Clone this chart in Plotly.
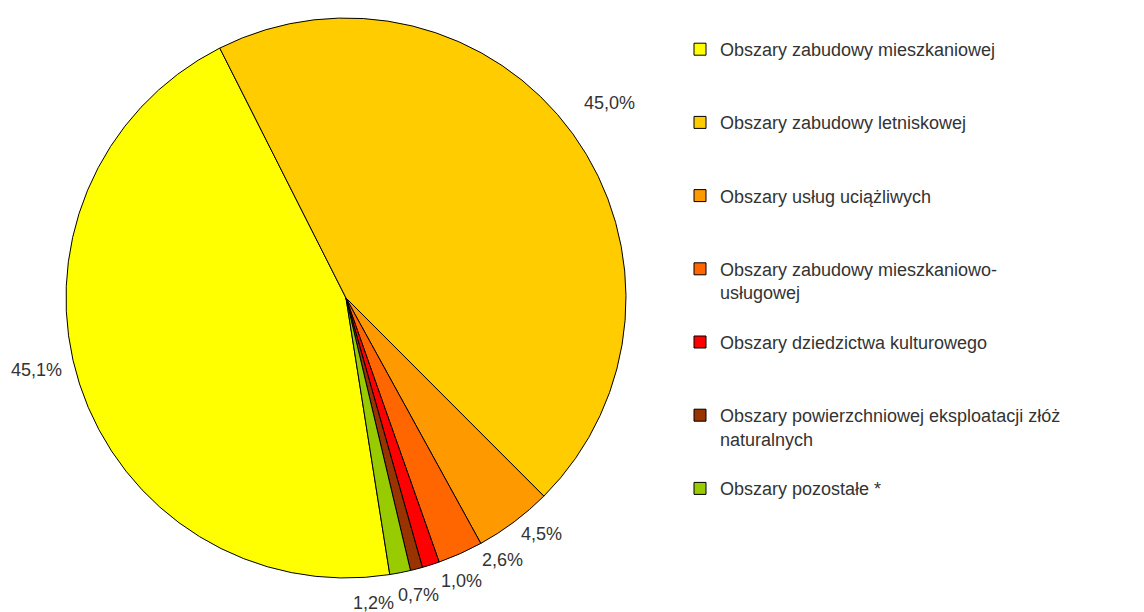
import math
import plotly.graph_objects as go

categories = [
    "Obszary zabudowy mieszkaniowej",
    "Obszary zabudowy letniskowej",
    "Obszary usług uciążliwych",
    "Obszary zabudowy mieszkaniowo-<br>usługowej",
    "Obszary dziedzictwa kulturowego",
    "Obszary powierzchniowej eksploatacji złóż<br>naturalnych",
    "Obszary pozostałe *",
]
values = [45.1, 45.0, 4.5, 2.6, 1.0, 0.7, 1.2]
colors = ["#FFFF00", "#FFCC00", "#FF9900", "#FF6600", "#FF0000", "#993300", "#99CC00"]

# pad legend entries so each occupies three text lines (matching spacing)
legend_labels = []
for c in categories:
    n = c.count("<br>") + 1
    legend_labels.append(c + "<br> " * (3 - n))

W, H = 1144, 612
cx, cy, r = 338, 290, 280
start_angle = 171  # degrees clockwise from 12 o'clock

fig = go.Figure(go.Pie(
    labels=legend_labels,
    values=values,
    sort=False,
    direction="clockwise",
    rotation=start_angle,
    marker=dict(colors=colors, line=dict(color="#000000", width=1)),
    textinfo="none",
    hoverinfo="skip",
    domain=dict(x=[(cx - r) / W, (cx + r) / W], y=[(H - cy - r) / H, (H - cy + r) / H]),
))

# percentage labels placed outside each slice, from the slice mid-angles
total = sum(values)
mids = []
acc = start_angle
for v in values:
    span = v / total * 360
    mids.append((acc + span / 2) % 360)
    acc += span

# fan out crowded labels (minimum angular gap)
order = sorted(range(len(values)), key=lambda i: mids[i])
ang = [mids[i] for i in order]
min_gap = 8.0
for _ in range(60):
    moved = False
    for k in range(1, len(ang)):
        if ang[k] - ang[k - 1] < min_gap:
            d = (min_gap - (ang[k] - ang[k - 1])) / 2
            ang[k - 1] -= d
            ang[k] += d
            moved = True
    if not moved:
        break
label_ang = [0] * len(values)
for k, i in enumerate(order):
    label_ang[i] = ang[k]

bw, bh = 58, 20
for i, v in enumerate(values):
    t = math.radians(label_ang[i])
    s, c = math.sin(t), math.cos(t)
    R = r + 16
    px = cx + R * s + bw / 2 * s
    py = cy - R * c - bh / 2 * c - 24 * s * s
    fig.add_annotation(
        x=px / W, y=1 - py / H, xref="paper", yref="paper",
        text=f"{v:.1f}%".replace(".", ","),
        showarrow=False, xanchor="center", yanchor="middle",
        font=dict(size=18, color="#333333"),
    )

fig.update_layout(
    width=W, height=H,
    margin=dict(l=0, r=0, t=0, b=0),
    paper_bgcolor="white",
    plot_bgcolor="white",
    font=dict(family="Liberation Sans, Arial, sans-serif", color="#333333", size=18),
    legend=dict(
        x=672 / W, y=1 - 23 / H, xanchor="left", yanchor="top",
        font=dict(size=18, color="#333333"),
        valign="top",
        bgcolor="rgba(0,0,0,0)",
    ),
    showlegend=True,
)

fig.write_html("out.html")
